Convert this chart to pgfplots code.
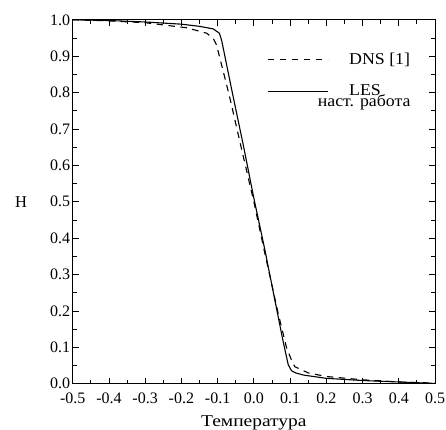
\documentclass[border=0pt]{standalone}
\usepackage{fontspec}
\setmainfont{Liberation Serif}
\newfontfamily\widerm[FakeStretch=1.18]{Liberation Serif}
\newfontfamily\legrm[FakeStretch=1.08]{Liberation Serif}
\usepackage{pgfplots}
\usepackage{pgfplotstable}
\pgfplotsset{compat=1.18}

% DNS [1], dashed
\pgfplotstableread{
x y
-0.500 1.000
-0.400 0.997
-0.300 0.992
-0.185 0.978
-0.130 0.963
-0.112 0.949
-0.103 0.931
-0.068 0.793
-0.030 0.628
0.000 0.500
0.030 0.360
0.067 0.194
0.090 0.100
0.104 0.065
0.113 0.047
0.150 0.030
0.200 0.020
0.300 0.011
0.400 0.005
0.500 0.002
}\dns

% LES, present work, solid
\pgfplotstableread{
x y
-0.500 1.000
-0.400 0.998
-0.300 0.994
-0.200 0.988
-0.150 0.982
-0.112 0.975
-0.095 0.963
-0.089 0.944
-0.058 0.793
-0.030 0.660
0.000 0.510
0.030 0.370
0.058 0.230
0.080 0.120
0.095 0.052
0.104 0.036
0.115 0.030
0.137 0.024
0.200 0.015
0.300 0.009
0.400 0.005
0.500 0.001
}\les

\begin{document}
\begin{tikzpicture}
\begin{axis}[
    scale only axis,
    width=362.3pt, height=364pt,
    xmin=-0.5, xmax=0.5, ymin=0, ymax=1,
    xtick={-0.5,-0.4,-0.3,-0.2,-0.1,0,0.1,0.2,0.3,0.4,0.5},
    ytick={0,0.1,0.2,0.3,0.4,0.5,0.6,0.7,0.8,0.9,1},
    minor x tick num=1, minor y tick num=1,
    major tick length=6pt, minor tick length=4pt,
    tick style={line width=0.8pt, black},
    axis line style={line width=0.8pt},
    xticklabel={\fontsize{16}{16}\selectfont\pgfmathprintnumber[assume math mode=true,fixed,fixed zerofill,precision=1]{\tick}},
    yticklabel={\fontsize{16}{16}\selectfont\pgfmathprintnumber[assume math mode=true,fixed,fixed zerofill,precision=1]{\tick}},
    xticklabel style={yshift=-6pt},
    yticklabel style={xshift=1pt},
    xlabel={\widerm Температура}, ylabel={H},
    label style={font=\fontsize{16.5}{16.5}\selectfont},
    xlabel style={at={(axis description cs:0.5,0)}, anchor=center, yshift=-39pt},
    ylabel style={rotate=-90, at={(axis description cs:0,0.5)}, anchor=center, xshift=-51.7pt},
    legend style={draw=none, fill=none, at={(rel axis cs:0.536,0.909)}, anchor=north west,
        inner sep=0pt, row sep=19pt, column sep=21pt, nodes={inner sep=0pt},
        font=\fontsize{16.5}{16.5}\selectfont\legrm},
    legend cell align=left,
    legend image code/.code={\draw[#1] (0pt,0pt) -- (60pt,0pt);},
]
\addplot[black, line width=1.1pt, dash pattern=on 6.5pt off 5.5pt] table {\dns};
\addlegendentry{DNS [1]}
\addplot[black, line width=1.1pt] table {\les};
\addlegendentry{LES\rlap{\hspace*{-63pt}\raisebox{-11pt}{наст. работа}}}
\end{axis}
\pgfresetboundingbox
\path[use as bounding box] ([shift={(-72.7pt,-46.2pt)}]current axis.south west)
    rectangle ([shift={(11pt,19.8pt)}]current axis.north east);
\end{tikzpicture}
\end{document}
